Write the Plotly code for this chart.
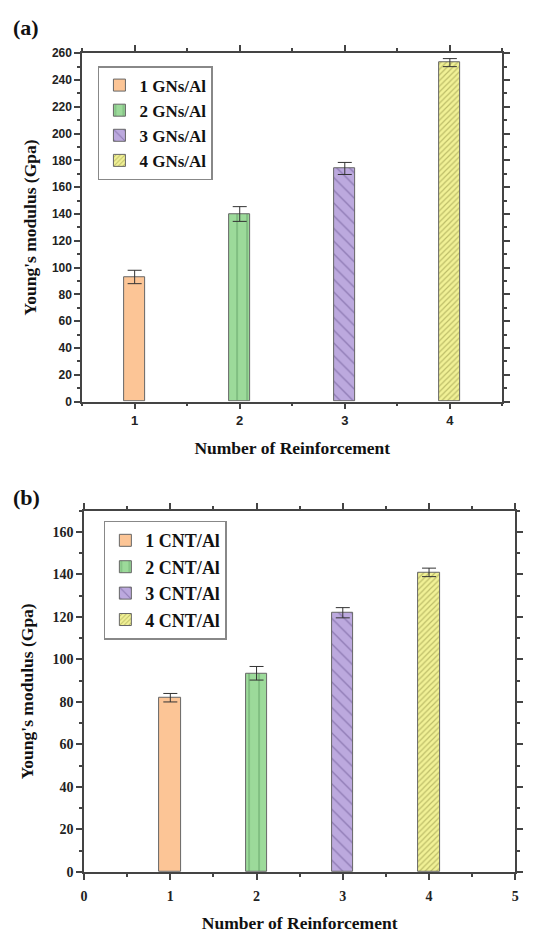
import plotly.graph_objects as go

# ---- data ----
categories = [1, 2, 3, 4]
gns_labels = ["1 GNs/Al", "2 GNs/Al", "3 GNs/Al", "4 GNs/Al"]
gns_values = [93, 140, 174, 253]
gns_errors = [5, 5.5, 4.5, 3]
cnt_labels = ["1 CNT/Al", "2 CNT/Al", "3 CNT/Al", "4 CNT/Al"]
cnt_values = [82, 93.5, 122, 141]
cnt_errors = [2, 3.2, 2.4, 2]

colors = ["#FCC596", "#9CDA9A", "#BCA9DE", "#F1F196"]
pat_shapes = ["", "|", "\\", "/"]
pat_fg = ["#FCC596", "#3F7F48", "#5D4A86", "#8A8A3A"]
pat_size = [8, 10, 9, 4]
pat_sol = [0.2, 0.12, 0.14, 0.3]

W, H = 542, 934
serif = "Liberation Serif"
sans = "Liberation Sans"

fig = go.Figure()

for i in range(4):
    fig.add_trace(go.Bar(
        x=[categories[i]], y=[gns_values[i]], name=gns_labels[i], width=0.2,
        marker=dict(color=colors[i], line=dict(color="#666666", width=1),
                    pattern=dict(shape=pat_shapes[i], fgcolor=pat_fg[i],
                                 size=pat_size[i], solidity=pat_sol[i])),
        error_y=dict(type="data", array=[gns_errors[i]], color="#333333", thickness=1, width=7),
        xaxis="x", yaxis="y", legend="legend",
    ))
for i in range(4):
    fig.add_trace(go.Bar(
        x=[categories[i]], y=[cnt_values[i]], name=cnt_labels[i], width=0.25,
        marker=dict(color=colors[i], line=dict(color="#666666", width=1),
                    pattern=dict(shape=pat_shapes[i], fgcolor=pat_fg[i],
                                 size=pat_size[i], solidity=pat_sol[i])),
        error_y=dict(type="data", array=[cnt_errors[i]], color="#333333", thickness=1, width=7),
        xaxis="x2", yaxis="y2", legend="legend2",
    ))

axis_common = dict(showline=True, linecolor="#444444", linewidth=1.5, mirror="ticks",
                   ticks="outside", ticklen=6, tickwidth=1.5, tickcolor="#444444",
                   showgrid=False, zeroline=False)
title_font = dict(family=serif, size=17.5, color="#111111", weight="bold")

fig.update_layout(
    width=W, height=H,
    margin=dict(l=0, r=0, t=0, b=0),
    paper_bgcolor="white", plot_bgcolor="white",
    bargap=0,
    xaxis=dict(domain=[80 / W, 505 / W], range=[0.5, 4.5], tickvals=categories,
               minor=dict(dtick=0.5, ticks="outside", ticklen=3, tickcolor="#444444"),
               tickfont=dict(family=sans, size=13, color="#222222", weight="bold"),
               title=dict(text="Number of Reinforcement", font=title_font, standoff=15),
               anchor="y", **axis_common),
    yaxis=dict(domain=[1 - 401 / H, 1 - 47 / H], range=[0, 260], dtick=20,
               minor=dict(dtick=10, ticks="outside", ticklen=3, tickcolor="#444444"),
               tickfont=dict(family=sans, size=12, color="#222222", weight="bold"),
               title=dict(text="Young's modulus (Gpa)", font=title_font, standoff=11),
               anchor="x", **axis_common),
    xaxis2=dict(domain=[82 / W, 518 / W], range=[0, 5], dtick=1,
                minor=dict(dtick=0.5, ticks="outside", ticklen=3, tickcolor="#444444"),
                tickfont=dict(family=serif, size=14, color="#222222", weight="bold"),
                ticklabelstandoff=5,
                title=dict(text="Number of Reinforcement", font=title_font, standoff=13),
                anchor="y2", **axis_common),
    yaxis2=dict(domain=[1 - 879 / H, 1 - 512 / H], range=[0, 170], dtick=20,
                minor=dict(dtick=10, ticks="outside", ticklen=3, tickcolor="#444444"),
                tickfont=dict(family=serif, size=14, color="#222222", weight="bold"),
                title=dict(text="Young's modulus (Gpa)", font=title_font, standoff=14),
                anchor="x2", **axis_common),
    legend=dict(x=96 / W, y=1 - 60 / H, xanchor="left", yanchor="top",
                bgcolor="white", bordercolor="#888888", borderwidth=1.5,
                font=dict(family=serif, size=17, color="#111111", weight="bold"),
                itemwidth=30, tracegroupgap=0),
    legend2=dict(x=102 / W, y=1 - 522 / H, xanchor="left", yanchor="top",
                 bgcolor="white", bordercolor="#888888", borderwidth=1.5,
                 font=dict(family=serif, size=18, color="#111111", weight="bold"),
                 itemwidth=30, tracegroupgap=0),
    annotations=[
        dict(text="(a)", x=8 / W, y=1 - 6 / H, xref="paper", yref="paper",
             xanchor="left", yanchor="top", showarrow=False,
             font=dict(family=serif, size=22, color="#111111", weight="bold")),
        dict(text="(b)", x=8 / W, y=1 - 484 / H, xref="paper", yref="paper",
             xanchor="left", yanchor="top", showarrow=False,
             font=dict(family=serif, size=22, color="#111111", weight="bold")),
    ],
)

fig.write_html("out.html")
